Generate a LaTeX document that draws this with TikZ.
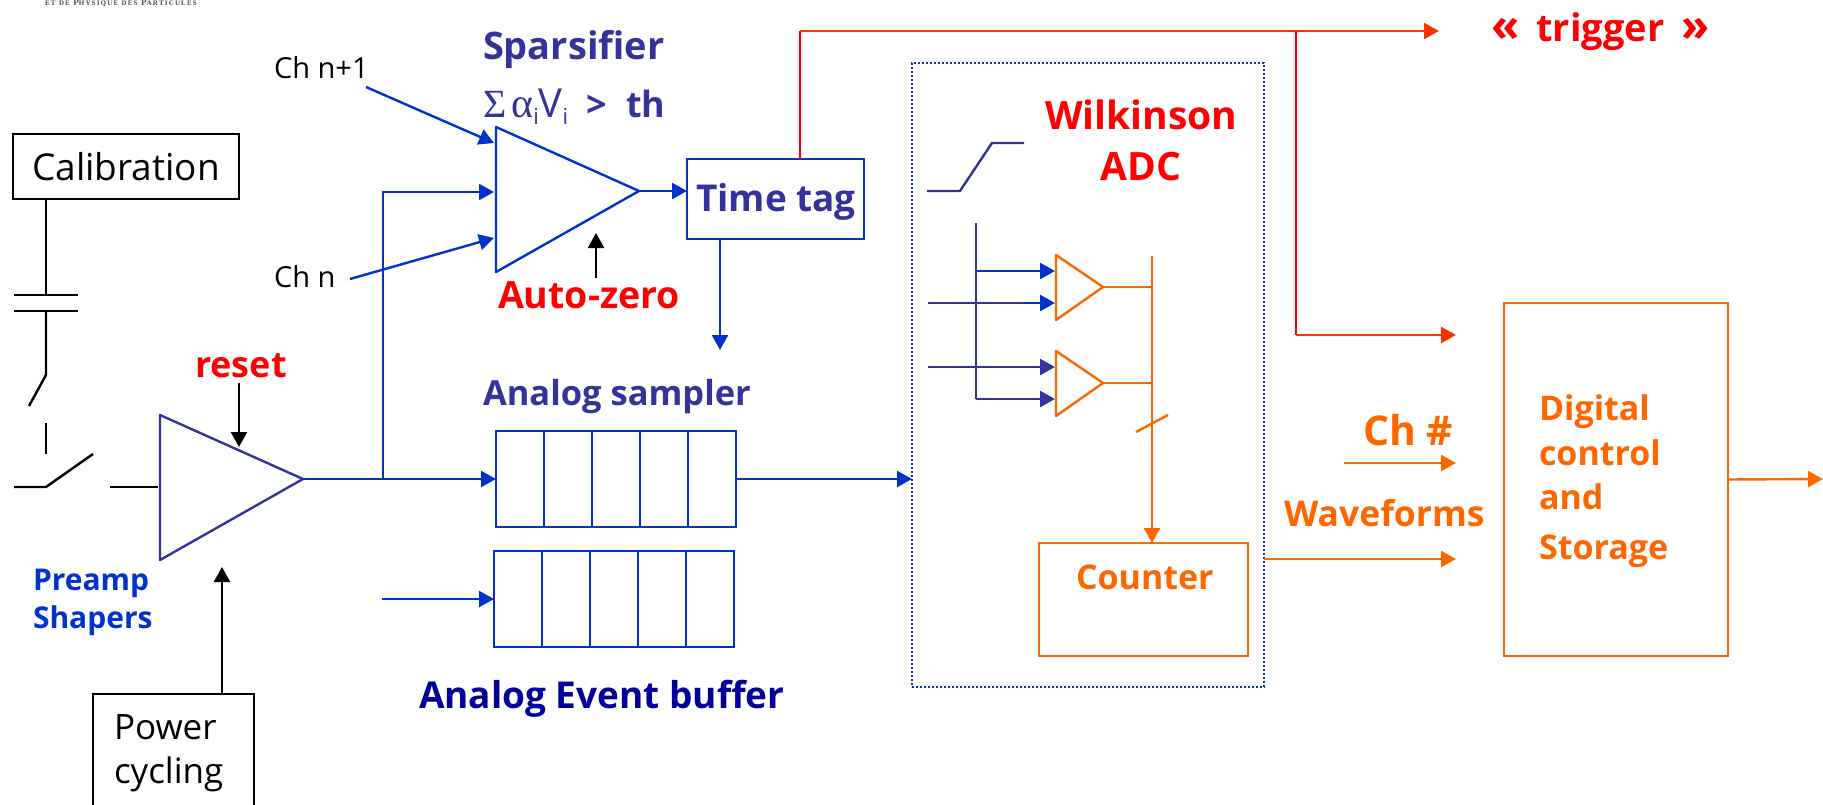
\documentclass[tikz,border=0pt]{standalone}
\usepackage{fontspec}
\setmainfont{Open Sans}
\newfontfamily\logofont{Liberation Serif}
\newfontfamily\symfont{Liberation Serif}
\usetikzlibrary{arrows.meta}
\definecolor{cblue}{HTML}{0033CC}
\definecolor{cindigo}{HTML}{333399}
\definecolor{cnavy}{HTML}{000099}
\definecolor{cred}{HTML}{FF0000}
\definecolor{credor}{HTML}{FF3300}
\definecolor{corange}{HTML}{FF6600}
\newcommand{\fs}[1]{\fontsize{#1}{#1}\selectfont}
\tikzset{
  wire/.style={line width=2.4pt,line join=miter},
  arrowed/.style={wire,-{Triangle[length=15pt,width=16pt]}},
  boxnode/.style={draw,line width=2.4pt,inner sep=0pt,outer sep=0pt,rectangle},
  tri/.style={wire,line join=round},
  lab/.style={anchor=base west,inner sep=0pt,outer sep=0pt},
  blab/.style={lab,font=\bfseries},
}
\begin{document}
\begin{tikzpicture}[x=1pt,y=-1pt]
\useasboundingbox (0,0) rectangle (1823,805);
% logo fragment
\node[lab,text=black!70] (logo) at (45,6) {\logofont\bfseries\fontsize{7}{7}\selectfont E\,T\ \ D\,E\ \ {\fontsize{9}{9}\selectfont P}H\,Y\,S\,I\,Q\,U\,E\ \ D\,E\,S\ \ {\fontsize{9}{9}\selectfont P}A\,R\,T\,I\,C\,U\,L\,E\,S};
% calibration & input switch
\node[boxnode,minimum width=226pt,minimum height=65pt,font=\fs{37}] (cal) at (126,166.5) {Calibration};
\coordinate (capa) at (46,295);
\coordinate (capb) at (46,311);
\coordinate (capal) at (14,295);
\coordinate (capar) at (78,295);
\coordinate (capbl) at (14,311);
\coordinate (capbr) at (78,311);
\coordinate (swtop) at (46,375);
\coordinate (swarm) at (29,406);
\coordinate (swc1) at (46,423);
\coordinate (swc2) at (46,454);
\coordinate (swl) at (14,487);
\coordinate (swm) at (46,487);
\coordinate (swr) at (93,454);
\coordinate (inl) at (110,487);
\coordinate (inr) at (158,487);
\draw[wire] (cal.south -| capa) -- (capa);
\draw[wire] (capal) -- (capar);
\draw[wire] (capbl) -- (capbr);
\draw[wire] (capb) -- (swtop) -- (swarm);
\draw[wire] (swc1) -- (swc2);
\draw[wire] (swl) -- (swm) -- (swr);
\draw[wire] (inl) -- (inr);
% preamp
\coordinate (pa1) at (160,415);
\coordinate (pa2) at (160,560);
\coordinate (pa3) at (303,479);
\draw[tri,cindigo] (pa1) -- (pa3) -- (pa2) -- cycle;
\node[blab,text=cred,font=\bfseries\fs{36}] (reset) at (195,377) {reset};
\coordinate (rsttop) at (239,383);
\coordinate (rsttip) at (239,447);
\draw[arrowed] (rsttop) -- (rsttip);
\node[blab,text=cblue,font=\bfseries\fs{30},align=left] (preamp) at (33,628) {Preamp\\[8pt]Shapers};
% power cycling
\node[boxnode,minimum width=161pt,minimum height=136pt] (power) at (173.5,762) {};
\node[lab,font=\fs{35},align=left] (powert) at (114,783) {Power\\[9pt]cycling};
\coordinate (pwrtip) at (222,567);
\draw[arrowed] (power.north -| pwrtip) -- (pwrtip);
% sampler
\node[boxnode,draw=cblue,minimum width=240pt,minimum height=96pt] (samp) at (616,479) {};
\foreach \x in {544,592,640,688} \draw[wire,cblue] (\x,431) -- (\x,527);
\node[boxnode,draw=cblue,minimum width=240pt,minimum height=96pt] (evb) at (614,599) {};
\foreach \x in {542,590,638,686} \draw[wire,cblue] (\x,551) -- (\x,647);
\coordinate (j1) at (383,479);
\coordinate (evin) at (382,599);
\draw[arrowed,cblue] (pa3) -- (samp.west);
\draw[arrowed,cblue] (evin) -- (evb.west);
\node[blab,text=cindigo,font=\bfseries\fs{34.5}] (samplab) at (483,405) {Analog sampler};
\node[blab,text=cnavy,font=\bfseries\fs{37}] (evblab) at (419,708) {Analog Event buffer};
% sparsifier
\coordinate (sp1) at (496,127);
\coordinate (sp2) at (496,272);
\coordinate (sp3) at (639,191);
\draw[tri,cblue] (sp1) -- (sp3) -- (sp2) -- cycle;
\node[lab,font=\fs{29}] (chn1) at (274,79) {Ch n+1};
\node[lab,font=\fs{29}] (chn) at (274,287) {Ch n};
\coordinate (chn1o) at (366,87);
\coordinate (chno) at (350,279);
\coordinate (in1) at (494,143);
\coordinate (in2) at (494,192);
\coordinate (in3) at (494,238);
\draw[arrowed,cblue] (chn1o) -- (in1);
\draw[arrowed,cblue] (chno) -- (in3);
\draw[arrowed,cblue] (j1) -- (j1 |- in2) -- (in2);
\node[blab,text=cindigo,font=\bfseries\fs{38}] (sparslab) at (483,60) {Sparsifier};
\node[blab,text=cindigo,font=\bfseries\fs{36}] (sumlab) at (483,118) {{\symfont\fs{40}\mdseries Σ}\hspace{5pt}{\symfont\fs{42}\mdseries α}\raisebox{-7pt}{\fs{22}\mdseries i}{\fs{40}\mdseries V}\raisebox{-7pt}{\fs{22}\mdseries i}\ \ >\ \ th};
\node[blab,text=cred,font=\bfseries\fs{37.5}] (azlab) at (498,308) {Auto-zero};
\coordinate (azb) at (596,278);
\coordinate (azt) at (596,233);
\draw[arrowed] (azb) -- (azt);
% time tag
\node[boxnode,draw=cblue,minimum width=177pt,minimum height=80pt] (tt) at (775.5,199) {};
\node[blab,text=cindigo,font=\bfseries\fs{37}] (ttlab) at (696,212) {Time tag};
\draw[arrowed,cblue] (sp3) -- (sp3 -| tt.west);
\coordinate (ttd) at (720,350);
\draw[arrowed,cblue] (tt.south -| ttd) -- (ttd);
% trigger
\coordinate (trgc) at (800,31);
\coordinate (trgt) at (1439,31);
\coordinate (trgb) at (1296,31);
\coordinate (trgc2) at (1296,335);
\coordinate (trgt2) at (1456,335);
\draw[wire,cred] (tt.north -| trgc) -- (trgc);
\draw[arrowed,credor] (trgc) -- (trgt);
\draw[wire,cred] (trgb) -- (trgc2);
\draw[arrowed,credor] (trgc2) -- (trgt2);
\node[blab,text=cred,font=\bfseries\fs{38}] (trig) at (1491,42) {{\fs{46}«}\hspace{17pt}trigger\hspace{17pt}{\fs{46}»}};
% ADC dotted box
\node[rectangle,draw=cblue,line width=2pt,dash pattern=on 2pt off 2pt,inner sep=0pt,outer sep=0pt,minimum width=352pt,minimum height=624pt] (adc) at (1088,375) {};
\draw[arrowed,cblue] (samp.east) -- (adc.west |- samp.east);
\node[blab,text=cred,font=\bfseries\fs{39},align=center] (wilk) at (1045,181) {Wilkinson\\[12pt]ADC};
% ramp
\coordinate (r1) at (927,191);
\coordinate (r2) at (960,191);
\coordinate (r3) at (992,143);
\coordinate (r4) at (1024,143);
\draw[wire,cindigo] (r1) -- (r2) -- (r3) -- (r4);
% comparators
\coordinate (c1a) at (1056,255);
\coordinate (c1b) at (1056,320);
\coordinate (c1c) at (1103,287);
\coordinate (c2a) at (1056,351);
\coordinate (c2b) at (1056,416);
\coordinate (c2c) at (1103,383);
\draw[tri,corange] (c1a) -- (c1c) -- (c1b) -- cycle;
\draw[tri,corange] (c2a) -- (c2c) -- (c2b) -- cycle;
\coordinate (vt) at (976,223);
\coordinate (vb) at (976,399);
\coordinate (l1) at (976,271);
\coordinate (t1) at (1055,271);
\coordinate (s2) at (928,303);
\coordinate (t2) at (1055,303);
\coordinate (s3) at (928,367);
\coordinate (t3) at (1055,367);
\coordinate (t4) at (1055,399);
\draw[wire,cindigo] (vt) -- (vb);
\draw[arrowed,cblue] (l1) -- (t1);
\draw[arrowed,cblue] (s2) -- (t2);
\draw[wire,cindigo] (s2) -- (1024,303);
\draw[arrowed,cindigo] (s3) -- (t3);
\draw[arrowed,cindigo] (vb) -- (t4);
% bus & counter
\node[boxnode,draw=corange,minimum width=209pt,minimum height=113pt] (cnt) at (1143.5,599.5) {};
\coordinate (bt) at (1152,256);
\coordinate (st1) at (1136,432);
\coordinate (st2) at (1168,415);
\draw[arrowed,corange] (bt) -- (bt |- cnt.north);
\draw[wire,corange] (c1c) -- (c1c -| bt);
\draw[wire,corange] (c2c) -- (c2c -| bt);
\draw[wire,corange] (st1) -- (st2);
\node[blab,text=corange,font=\bfseries\fs{34}] (cntlab) at (1076,589) {Counter};
% right part
\node[boxnode,draw=corange,minimum width=224pt,minimum height=353pt] (dig) at (1616,479.5) {};
\node[blab,text=corange,font=\bfseries\fs{34},align=left] (diglab) at (1539,559) {Digital\\[11pt]control\\[10pt]and\\[16pt]Storage};
\coordinate (chs) at (1344,463);
\coordinate (cht) at (1456,463);
\coordinate (wft) at (1456,559);
\coordinate (outt) at (1823,479);
\draw[arrowed,corange] (chs) -- (cht);
\draw[arrowed,corange] (adc.east |- wft) -- (wft);
\draw[arrowed,corange] (dig.east) -- (outt);
\node[blab,text=corange,font=\bfseries\fs{41}] (chlab) at (1363,445) {Ch \#};
\node[blab,text=corange,font=\bfseries\fs{35.5}] (wflab) at (1284,526) {Waveforms};
\end{tikzpicture}
\end{document}
